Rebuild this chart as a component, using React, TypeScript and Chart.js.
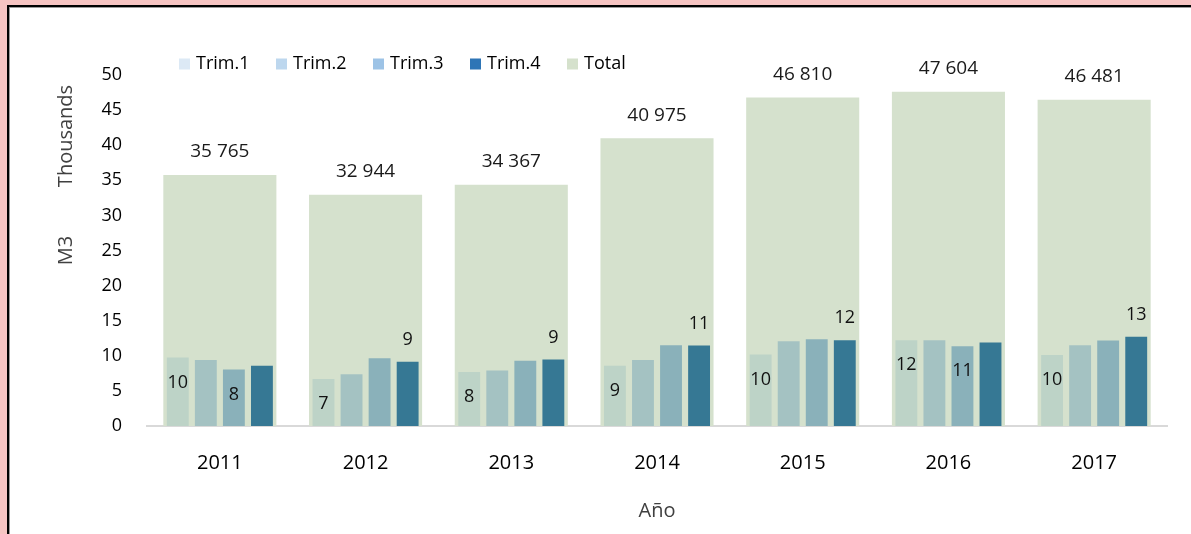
import React, { useEffect, useRef } from "react";
import { Chart, registerables } from "chart.js";

Chart.register(...registerables);

// ---- data (thousands of M3) ----
const years = ["2011", "2012", "2013", "2014", "2015", "2016", "2017"];
const trim1 = [9.75, 6.7, 7.7, 8.6, 10.17, 12.2, 10.1];
const trim2 = [9.4, 7.36, 7.9, 9.4, 12.07, 12.2, 11.5];
const trim3 = [8.05, 9.64, 9.28, 11.5, 12.35, 11.35, 12.18];
const trim4 = [8.57, 9.17, 9.48, 11.48, 12.2, 11.88, 12.7];
const totals = [35.765, 32.944, 34.367, 40.975, 46.81, 47.604, 46.481];
const yMin = 0;
const yMax = 50;
const yStep = 5;

// which data labels are shown (as in the original)
const trim1Shown = [1, 1, 1, 1, 1, 1, 1];
const trim2Shown = [0, 0, 0, 0, 0, 0, 0];
const trim3Shown = [1, 0, 0, 0, 0, 1, 0];
const trim4Shown = [0, 1, 1, 1, 1, 0, 1];
const totalShown = [1, 1, 1, 1, 1, 1, 1];

const legendNames = ["Trim.1", "Trim.2", "Trim.3", "Trim.4", "Total"];

const FONT = "'Open Sans', 'Liberation Sans', sans-serif";

function fmtTotal(v: number) {
  return String(Math.round(v * 1000)).replace(/\B(?=(\d{3})+(?!\d))/g, " ");
}

const labelPlugin = {
  id: "valueLabels",
  afterDatasetsDraw(chart: any) {
    const ctx = chart.ctx;
    ctx.save();
    ctx.textAlign = "center";
    ctx.textBaseline = "middle";
    chart.data.datasets.forEach((ds: any, di: number) => {
      const meta = chart.getDatasetMeta(di);
      meta.data.forEach((el: any, i: number) => {
        if (!ds.shown[i]) return;
        const v = ds.data[i];
        if (ds.isTotal) {
          ctx.font = `19px ${FONT}`;
          ctx.fillStyle = "#1a1a1a";
          ctx.fillText(fmtTotal(v), el.x, el.y - 23);
        } else {
          ctx.font = `18px ${FONT}`;
          ctx.fillStyle = "#111111";
          const y = ds.labelMode === "above" ? el.y - 22 : el.y + 25;
          ctx.fillText(String(Math.round(v)), el.x, y);
        }
      });
    });
    ctx.restore();
  },
};

const extrasPlugin = {
  id: "extras",
  afterDraw(chart: any) {
    const ctx = chart.ctx;
    const area = chart.chartArea;
    ctx.save();
    // display-units label
    ctx.translate(66, area.top + 61);
    ctx.rotate(-Math.PI / 2);
    ctx.font = `20px ${FONT}`;
    ctx.fillStyle = "#404040";
    ctx.textAlign = "center";
    ctx.textBaseline = "middle";
    ctx.fillText("Thousands", 0, 0);
    ctx.restore();

    // legend
    ctx.save();
    ctx.font = `18px ${FONT}`;
    ctx.textBaseline = "middle";
    ctx.textAlign = "left";
    const startX = 179;
    const pitch = 97;
    const y = area.top - 11;
    chart.data.datasets.forEach((ds: any, i: number) => {
      const x = startX + i * pitch;
      ctx.fillStyle = ds.legendColor;
      ctx.fillRect(x, y - 5.5, 11, 11);
      ctx.fillStyle = "#000000";
      ctx.fillText(legendNames[i], x + 17, y);
    });
    ctx.restore();
  },
};

export default function App() {
  const ref = useRef<HTMLCanvasElement | null>(null);

  useEffect(() => {
    document.body.style.margin = "0";
    if (!ref.current) return;
    const trimCommon = {
      categoryPercentage: 0.77,
      barPercentage: 0.78,
      borderWidth: 0,
    };
    const chart = new Chart(ref.current, {
      type: "bar",
      data: {
        labels: years,
        datasets: [
          { ...trimCommon, label: legendNames[0], data: trim1, backgroundColor: "#bdd3c7", legendColor: "#dce9f5", shown: trim1Shown, labelMode: "inside" } as any,
          { ...trimCommon, label: legendNames[1], data: trim2, backgroundColor: "#a4c2c2", legendColor: "#bdd7ee", shown: trim2Shown, labelMode: "inside" } as any,
          { ...trimCommon, label: legendNames[2], data: trim3, backgroundColor: "#8ab1ba", legendColor: "#9dc3e6", shown: trim3Shown, labelMode: "inside" } as any,
          { ...trimCommon, label: legendNames[3], data: trim4, backgroundColor: "#367894", legendColor: "#2e75b6", shown: trim4Shown, labelMode: "above" } as any,
          {
            label: legendNames[4],
            data: totals,
            backgroundColor: "#d5e1cd",
            legendColor: "#d5e1cc",
            grouped: false,
            categoryPercentage: 0.776,
            barPercentage: 1,
            borderWidth: 0,
            shown: totalShown,
            isTotal: true,
          } as any,
        ],
      },
      options: {
        animation: false,
        responsive: false,
        maintainAspectRatio: false,
        layout: { padding: { left: 0, right: 24, top: 75, bottom: 0 } },
        plugins: {
          legend: { display: false },
          tooltip: { enabled: false },
        },
        scales: {
          x: {
            grid: { display: false, drawTicks: false },
            border: { display: true, color: "#d9d9d9", width: 2 },
            ticks: {
              color: "#000000",
              font: { family: FONT, size: 20 },
              padding: 25,
            },
            title: {
              display: true,
              text: "Año",
              color: "#404040",
              font: { family: FONT, size: 20 },
              padding: { top: 0, bottom: 11 },
            },
            afterFit(scale: any) {
              scale.height = 108;
            },
          },
          y: {
            min: yMin,
            max: yMax,
            grid: { display: false, drawTicks: false },
            border: { display: false },
            ticks: {
              stepSize: yStep,
              color: "#000000",
              font: { family: FONT, size: 18 },
              padding: 25,
            },
            title: {
              display: true,
              text: "M3",
              color: "#404040",
              font: { family: FONT, size: 20 },
              padding: { top: 54, bottom: 0 },
            },
            afterFit(scale: any) {
              scale.width = 147;
            },
          },
        },
      },
      plugins: [labelPlugin, extrasPlugin],
    } as any);
    return () => chart.destroy();
  }, []);

  return (
    <div
      style={{
        position: "fixed",
        left: 0,
        top: 0,
        width: 1191,
        height: 534,
        background: "#f6c4c2",
        overflow: "hidden",
      }}
    >
      <div
        style={{
          position: "absolute",
          left: 7,
          top: 5,
          width: 1300,
          height: 700,
          background: "#ffffff",
          borderLeft: "2px solid #000",
          borderTop: "2px solid #000",
          boxShadow: "inset 1px 1px 0 #9a9a9a",
        }}
      />
      <canvas
        ref={ref}
        width={1191}
        height={534}
        style={{ position: "absolute", left: 0, top: 0, width: 1191, height: 534 }}
      />
    </div>
  );
}
